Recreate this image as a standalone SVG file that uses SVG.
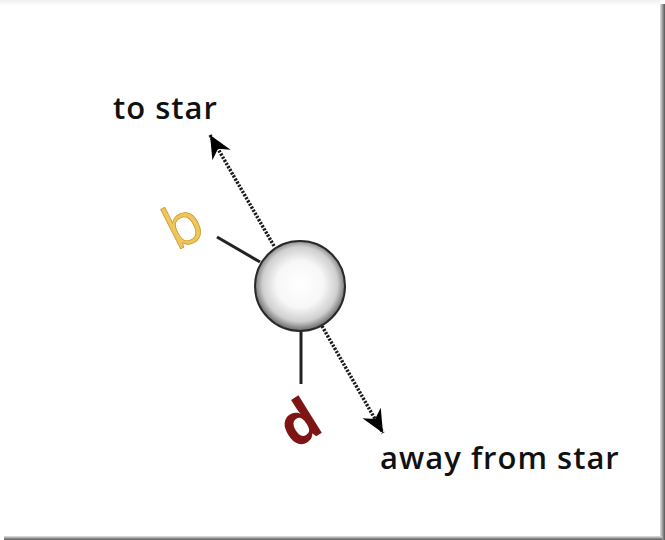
<svg xmlns="http://www.w3.org/2000/svg" width="665" height="540" viewBox="0 0 665 540">
  <style>
    .label { font-family: "Open Sans", "Liberation Sans", sans-serif; font-weight: 600; font-size: 31px; letter-spacing: 1px; fill: #111; }
    .dir { fill: none; stroke: #1a1a1a; stroke-width: 3.5; stroke-dasharray: 2.2 1.4; }
    .stick { fill: none; stroke: #222; stroke-width: 3; }
  </style>
  <defs>
    <radialGradient id="sphereShade" cx="0.5" cy="0.48" r="0.52">
      <stop offset="0" stop-color="#ffffff"/>
      <stop offset="0.5" stop-color="#f7f7f7"/>
      <stop offset="0.8" stop-color="#cfcfcf"/>
      <stop offset="1" stop-color="#666"/>
    </radialGradient>
    <linearGradient id="edgeRight" x1="0" y1="0" x2="1" y2="0">
      <stop offset="0" stop-color="#e6e6e6"/>
      <stop offset="1" stop-color="#555"/>
    </linearGradient>
    <linearGradient id="edgeBottom" x1="0" y1="0" x2="0" y2="1">
      <stop offset="0" stop-color="#e6e6e6"/>
      <stop offset="1" stop-color="#555"/>
    </linearGradient>
    <linearGradient id="edgeTop" x1="0" y1="0" x2="0" y2="1">
      <stop offset="0" stop-color="#f0f0f0"/>
      <stop offset="1" stop-color="#fdfdfd"/>
    </linearGradient>
    <marker id="head" markerUnits="userSpaceOnUse" markerWidth="26" markerHeight="24" refX="0" refY="0" viewBox="-24 -12 26 24" orient="auto">
      <path d="M0,0 L-23,-10.5 L-16,0 L-23,10.5 Z" fill="#000"/>
    </marker>
  </defs>

  <!-- page with drop shadow on right and bottom edges -->
  <rect x="0" y="0" width="665" height="540" fill="#fff"/>
  <rect x="0" y="0" width="660" height="5" fill="url(#edgeTop)"/>
  <rect x="660" y="4" width="5" height="536" fill="url(#edgeRight)"/>
  <rect x="4" y="536" width="658" height="4" fill="url(#edgeBottom)"/>

  <g id="connectors">
    <line class="dir" x1="274" y1="246" x2="210" y2="135" marker-end="url(#head)"/>
    <line class="dir" x1="322" y1="326" x2="383" y2="433" marker-end="url(#head)"/>
    <line class="stick" x1="217" y1="237" x2="260" y2="262"/>
    <line class="stick" x1="301" y1="330" x2="301" y2="384"/>
  </g>

  <g id="planet">
    <circle cx="300" cy="286" r="45" fill="url(#sphereShade)" stroke="#2a2a2a" stroke-width="2"/>
  </g>

  <g id="label-b">
    <text x="0" y="0" transform="translate(192 243) rotate(-27)" text-anchor="middle" style="font-family: 'Open Sans', 'Liberation Sans', sans-serif; font-size: 58px; font-weight: 400; fill: #f0c65c; stroke: #c99a30; stroke-width: 0.8;">b</text>
  </g>

  <g id="label-d">
    <text x="0" y="0" transform="translate(310 440) rotate(-32)" text-anchor="middle" style="font-family: 'Open Sans', 'Liberation Sans', sans-serif; font-size: 58px; font-weight: 700; fill: #7e1414;">d</text>
  </g>

  <g id="label-to-star">
    <text class="label" x="113" y="119">to star</text>
  </g>

  <g id="label-away">
    <text class="label" x="380" y="469">away from star</text>
  </g>
</svg>
